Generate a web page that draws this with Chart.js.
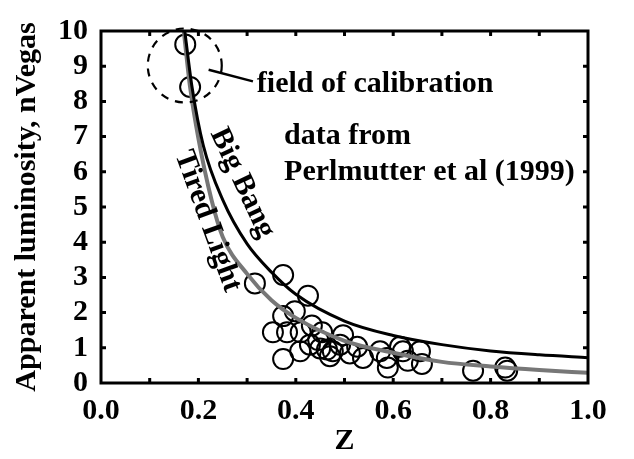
<!DOCTYPE html>
<html>
<head>
<meta charset="utf-8">
<script src="https://cdn.jsdelivr.net/npm/chart.js@4.4.1/dist/chart.umd.min.js"></script>
<style>
  html, body { margin: 0; padding: 0; background: #fff; }
  #wrap { width: 634px; height: 459px; position: relative; }
</style>
</head>
<body>
<div id="wrap"><canvas id="chart"></canvas></div>
<script>
// supernovae (Perlmutter et al 1999)
const snZ   = [0.173, 0.183, 0.316, 0.374, 0.425, 0.398, 0.374, 0.353, 0.382, 0.433,
               0.454, 0.374, 0.429, 0.450, 0.464, 0.476, 0.491, 0.497, 0.511, 0.538,
               0.573, 0.587, 0.589, 0.620, 0.655, 0.659, 0.764, 0.830, 0.834, 0.446,
               0.470, 0.409, 0.526, 0.614, 0.630, 0.410];
const snLum = [9.62, 8.41, 2.83, 3.07, 2.48, 2.04, 1.90, 1.44, 1.44, 1.63,
               1.44, 0.68, 1.09, 0.98, 0.95, 0.90, 1.09, 1.36, 0.84, 0.71,
               0.90, 0.71, 0.44, 0.90, 0.90, 0.54, 0.35, 0.44, 0.35, 1.22,
               0.76, 0.90, 1.03, 1.03, 0.63, 1.44];

// model curves
const bigBangZ   = [0.172, 0.187, 0.21, 0.25, 0.30, 0.35, 0.40, 0.50, 0.60, 0.70, 0.80, 0.90, 1.00];
const bigBangLum = [10.0, 8.4, 6.75, 5.2, 3.95, 3.15, 2.52, 1.76, 1.35, 1.09, 0.91, 0.80, 0.72];
const tiredZ     = [0.170, 0.183, 0.20, 0.227, 0.25, 0.30, 0.35, 0.40, 0.50, 0.60, 0.70, 0.80, 0.90, 1.00];
const tiredLum   = [10.0, 8.4, 6.95, 5.2, 4.15, 3.1, 2.35, 1.85, 1.2, 0.86, 0.60, 0.47, 0.37, 0.29];

// field of calibration (centre of the dashed ring)
const calibZ = 0.172;
const calibLum = 9.02;

const FONT = '"Liberation Serif", "Times New Roman", serif';
const FSIZE = 30;

function toXY(xs, ys) {
    return xs.map((x, i) => ({ x: x, y: ys[i] }));
}

// frame, inward ticks, dashed ring and the text notes
const decorPlugin = {
    id: 'decor',
    afterDraw(chart) {
        const ctx = chart.ctx;
        const a = chart.chartArea;
        const xs = chart.scales.x;
        const ys = chart.scales.y;

        ctx.save();
        ctx.strokeStyle = '#000';

        // dashed ring
        ctx.lineWidth = 2.2;
        ctx.setLineDash([8, 7]);
        ctx.beginPath();
        ctx.arc(xs.getPixelForValue(calibZ), ys.getPixelForValue(calibLum), 37, 0, Math.PI * 2);
        ctx.stroke();
        ctx.setLineDash([]);

        // leader line
        ctx.lineWidth = 2.5;
        ctx.beginPath();
        ctx.moveTo(xs.getPixelForValue(0.221), ys.getPixelForValue(8.9));
        ctx.lineTo(xs.getPixelForValue(0.312), ys.getPixelForValue(8.57));
        ctx.stroke();

        // frame
        ctx.lineWidth = 3;
        ctx.strokeRect(a.left, a.top, a.right - a.left, a.bottom - a.top);

        // ticks
        ctx.beginPath();
        for (let i = 1; i < 10; i++) {
            const px = xs.getPixelForValue(i / 10);
            ctx.moveTo(px, a.bottom); ctx.lineTo(px, a.bottom - 5);
            ctx.moveTo(px, a.top); ctx.lineTo(px, a.top + 5);
            const py = ys.getPixelForValue(i);
            ctx.moveTo(a.left, py); ctx.lineTo(a.left + 5, py);
            ctx.moveTo(a.right, py); ctx.lineTo(a.right - 5, py);
        }
        ctx.stroke();

        // notes
        ctx.fillStyle = '#000';
        ctx.font = 'bold ' + FSIZE + 'px ' + FONT;
        ctx.textBaseline = 'middle';
        ctx.textAlign = 'left';
        ctx.fillText('field of calibration', xs.getPixelForValue(0.32), ys.getPixelForValue(8.5));
        ctx.fillText('data from', xs.getPixelForValue(0.376), ys.getPixelForValue(7.0));
        ctx.fillText('Perlmutter et al (1999)', xs.getPixelForValue(0.376), ys.getPixelForValue(5.98));

        ctx.textAlign = 'center';
        ctx.save();
        ctx.translate(xs.getPixelForValue(0.29), ys.getPixelForValue(5.68));
        ctx.rotate(65 * Math.PI / 180);
        ctx.fillText('Big Bang', 0, 0);
        ctx.restore();

        ctx.save();
        ctx.translate(xs.getPixelForValue(0.219), ys.getPixelForValue(4.6));
        ctx.rotate(70 * Math.PI / 180);
        ctx.fillText('Tired Light', 0, 0);
        ctx.restore();

        ctx.restore();
    }
};

new Chart(document.getElementById('chart'), {
    type: 'scatter',
    data: {
        datasets: [
            {
                label: 'Big Bang',
                type: 'line',
                data: toXY(bigBangZ, bigBangLum),
                borderColor: '#000',
                borderWidth: 3,
                pointRadius: 0,
                cubicInterpolationMode: 'monotone',
                fill: false
            },
            {
                label: 'Tired Light',
                type: 'line',
                data: toXY(tiredZ, tiredLum),
                borderColor: '#777',
                borderWidth: 4,
                pointRadius: 0,
                cubicInterpolationMode: 'monotone',
                fill: false
            },
            {
                label: 'SNe',
                data: toXY(snZ, snLum),
                pointRadius: 10,
                pointBorderWidth: 2,
                pointBorderColor: '#000',
                pointBackgroundColor: 'rgba(0,0,0,0)'
            }
        ]
    },
    options: {
        responsive: true,
        maintainAspectRatio: false,
        animation: false,
        layout: { padding: { top: 15, right: 46, left: 0, bottom: 0 } },
        plugins: {
            legend: { display: false },
            tooltip: { enabled: false }
        },
        scales: {
            x: {
                type: 'linear',
                min: 0,
                max: 1,
                grid: { display: false, drawTicks: false },
                border: { display: false },
                ticks: {
                    stepSize: 0.1,
                    autoSkip: false,
                    maxRotation: 0,
                    padding: 10,
                    color: '#000',
                    font: { family: FONT, size: FSIZE, weight: 'bold' },
                    callback: function(value) {
                        return Math.round(value * 10) % 2 === 0 ? value.toFixed(1) : '';
                    }
                },
                title: {
                    display: true,
                    text: 'Z',
                    color: '#000',
                    padding: 0,
                    font: { family: FONT, size: FSIZE, weight: 'bold' }
                },
                afterFit: function(scale) { scale.height = 76; }
            },
            y: {
                min: 0,
                max: 10,
                grid: { display: false, drawTicks: false },
                border: { display: false },
                ticks: {
                    stepSize: 1,
                    autoSkip: false,
                    padding: 13,
                    color: '#000',
                    font: { family: FONT, size: FSIZE, weight: 'bold' }
                },
                title: {
                    display: true,
                    text: 'Apparent luminosity, nVegas',
                    color: '#000',
                    padding: { top: 9, bottom: 0 },
                    font: { family: FONT, size: FSIZE, weight: 'bold' }
                },
                afterFit: function(scale) { scale.width = 101; }
            }
        }
    },
    plugins: [decorPlugin]
});
</script>
</body>
</html>
